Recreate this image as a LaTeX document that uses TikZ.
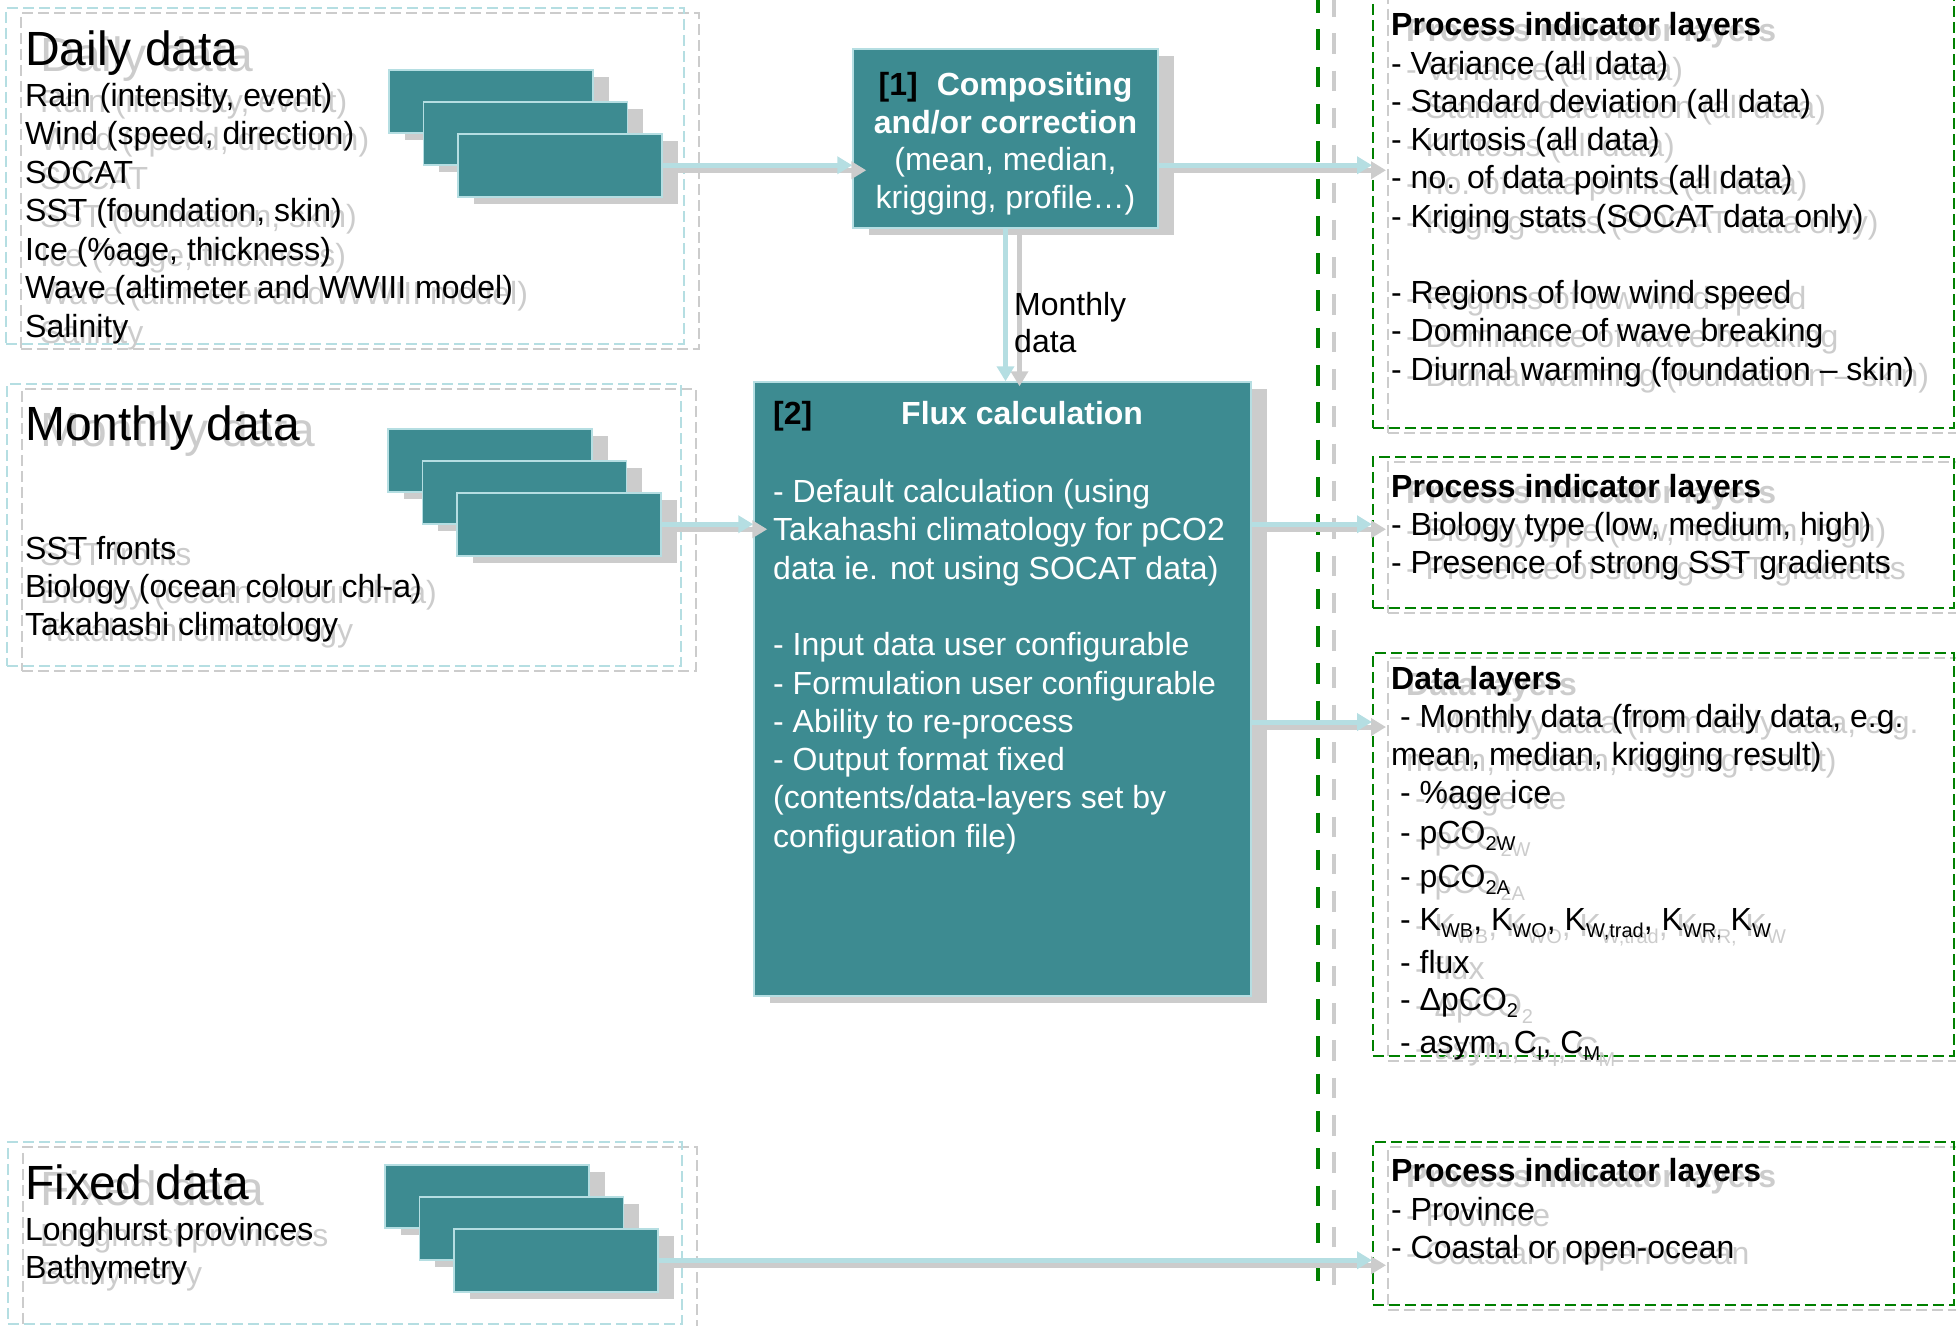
\documentclass[tikz,border=0pt]{standalone}
\usepackage{fontspec}
\setmainfont{Liberation Sans}
\usetikzlibrary{arrows.meta,shadows}

\definecolor{sea}{HTML}{3D8B91}
\definecolor{foam}{HTML}{B5DEE2}
\definecolor{smoke}{HTML}{CCCCCC}
\definecolor{leaf}{HTML}{008000}

% lowered small index, as in pCO2
\newcommand\low[1]{\raisebox{-7pt}{\fontsize{20}{20}\selectfont #1}}
% text with a grey copy behind it
\newcommand\shadowtext[4][txt]{%
  \node[#1, text=smoke, xshift=15pt, yshift=-6pt] (#2-s) at (#3) {#4};
  \node[#1] (#2) at (#3) {#4};}
% dashed frame with a grey copy behind it
\newcommand\drawpanel[5]{%
  \node[panel=smoke, minimum width=#4pt, minimum height=#5pt, xshift=15pt, yshift=-5pt] (#1-s) at (#3) {};
  \node[panel=#2, minimum width=#4pt, minimum height=#5pt] (#1) at (#3) {};}
% three stacked tiles
\newcommand\drawstack[2]{%
  \foreach \k in {0,1,2}
    \node[tile] (#1-\k) at ([shift={(34.5*\k,32*\k)}]#2) {};}
% arrow with its grey copy
\newcommand\connect[2]{%
  \draw[link shadow] (#1) -- (#2);
  \draw[link] (#1) -- (#2);}

\begin{document}
\begin{tikzpicture}[x=1pt, y=-1pt,
  txt/.style={anchor=base west, inner sep=0pt, font=\fontsize{32}{38.4}\selectfont},
  bold/.style={txt, font=\fontsize{32}{38.4}\selectfont\bfseries},
  head/.style={txt, font=\fontsize{48}{56}\selectfont},
  panel/.style={draw=#1, line width=1.8pt, dash pattern=on 11pt off 5pt, anchor=north west, inner sep=0pt},
  tile/.style={fill=sea, draw=foam, line width=1.5pt, anchor=north west, inner sep=0pt,
    minimum width=204pt, minimum height=63pt,
    drop shadow={shadow xshift=16pt, shadow yshift=-7pt, fill=smoke, opacity=1}},
  block/.style={tile, anchor=center},
  link/.style={draw=foam, line width=5pt, -{Triangle[length=15pt, width=17pt]}},
  link shadow/.style={link, draw=smoke, transform canvas={xshift=14pt, yshift=-5pt}},
  rule/.style={line width=4.5pt, dash pattern=on 20.5pt off 16.8pt}]
  \useasboundingbox (0,0) rectangle (1956,1325);

  % separator
  \draw[rule, smoke] (1334,-4) -- (1334,1292);
  \draw[rule, leaf] (1318,-8) -- (1318,1288);

  % input frames
  \drawpanel{daily-frame}{foam}{5,7}{678}{336}
  \drawpanel{month-frame}{foam}{6,383}{674}{282}
  \drawpanel{fixed-frame}{foam}{7,1141}{674}{182}
  % output frames
  \drawpanel{pil1}{leaf}{1372,-20}{581}{447}
  \drawpanel{pil2}{leaf}{1372,456}{581}{151}
  \drawpanel{dl}{leaf}{1372,652}{581}{403}
  \drawpanel{pil3}{leaf}{1372,1141}{581}{163}

  \drawstack{daily}{388,69}
  \drawstack{month}{387,428}
  \drawstack{fixed}{384,1164}

  \node[block, minimum width=305pt, minimum height=179pt, text=white, align=center,
    font=\fontsize{32}{37.5}\selectfont] (comp) at (1005.5,138.5)
    {\rule{0pt}{34pt}\textbf{\textcolor{black}{[1]}\hspace{19pt}Compositing}\\
     \textbf{and/or correction}\\ (mean, median,\\ krigging, profile…)};
  \node[block, minimum width=497pt, minimum height=614pt] (flux) at (1002.5,689) {};

  % connectors
  \coordinate (dl-in) at ([yshift=-70pt]dl.north west);
  \connect{daily-2.east}{comp.west |- daily-2.east}
  \connect{comp.east |- daily-2.east}{pil1.west |- daily-2.east}
  \connect{comp.south}{comp.south |- flux.north}
  \connect{month-2.east}{flux.west |- month-2.east}
  \connect{flux.east |- month-2.east}{pil2.west |- month-2.east}
  \connect{flux.east |- dl-in}{dl-in}
  \connect{fixed-2.east}{pil3.west |- fixed-2.east}

  \node[bold] (flux-no) at (773,424) {[2]};
  \node[bold, text=white] (flux-title) at (901,424) {Flux calculation};
  \foreach \y/\t in {502/{- Default calculation (using},
      540/{Takahashi climatology for pCO2},
      579/{data ie. not using SOCAT data)},
      655/{- Input data user configurable},
      694/{- Formulation user configurable},
      732/{- Ability to re-process},
      770/{- Output format fixed},
      808/{(contents/data-layers set by},
      847/{configuration file)}}
    {\node[txt, text=white] (flux-\y) at (773,\y) {\t};}

  % base anchor sits on the last line
  \node[txt, align=left, font=\fontsize{32}{37}\selectfont] (monthly) at (1014,352) {Monthly\\data};

  % inputs
  \shadowtext[head]{daily-head}{25,65}{Daily data}
  \foreach \y/\t in {106/{Rain (intensity, event)}, 144/{Wind (speed, direction)}, 183/SOCAT,
      221/{SST (foundation, skin)}, 260/{Ice (\%age, thickness)},
      298/{Wave (altimeter and WWIII model)}, 337/Salinity}
    {\shadowtext{daily-t\y}{25,\y}{\t}}
  \shadowtext[head]{month-head}{25,440}{Monthly data}
  \foreach \y/\t in {559/SST fronts, 597/{Biology (ocean colour chl-a)}, 635/Takahashi climatology}
    {\shadowtext{month-t\y}{25,\y}{\t}}
  \shadowtext[head]{fixed-head}{25,1199}{Fixed data}
  \foreach \y/\t in {1240/Longhurst provinces, 1278/Bathymetry}
    {\shadowtext{fixed-t\y}{25,\y}{\t}}

  % outputs
  \shadowtext[bold]{pil1-head}{1391,35}{Process indicator layers}
  \foreach \y/\t in {74/{- Variance (all data)}, 112/{- Standard deviation (all data)},
      150/{- Kurtosis (all data)}, 188/{- no. of data points (all data)},
      227/{- Kriging stats (SOCAT data only)}, 303/{- Regions of low wind speed},
      341/{- Dominance of wave breaking}, 380/{- Diurnal warming (foundation – skin)}}
    {\shadowtext{pil1-t\y}{1391,\y}{\t}}
  \shadowtext[bold]{pil2-head}{1391,497}{Process indicator layers}
  \foreach \y/\t in {535/{- Biology type (low, medium, high)}, 573/{- Presence of strong SST gradients}}
    {\shadowtext{pil2-t\y}{1391,\y}{\t}}
  \shadowtext[bold]{dl-head}{1391,689}{Data layers}
  \foreach \x/\y/\t in {1400/727/{- Monthly data (from daily data, e.g.},
      1391/765/{mean, median, krigging result)},
      1400/803/{- \%age ice},
      1400/843/{- pCO\low{2W}},
      1400/887/{- pCO\low{2A}},
      1400/930/{- K\low{WB}, K\low{WO}, K\low{W,trad}, K\low{WR,} K\low{W}},
      1400/973/{- flux},
      1400/1010/{- ΔpCO\low{2}},
      1400/1053/{- asym, C\low{I}, C\low{M}}}
    {\shadowtext{dl-t\y}{\x,\y}{\t}}
  \shadowtext[bold]{pil3-head}{1391,1181}{Process indicator layers}
  \foreach \y/\t in {1220/{- Province}, 1258/{- Coastal or open-ocean}}
    {\shadowtext{pil3-t\y}{1391,\y}{\t}}
\end{tikzpicture}
\end{document}
